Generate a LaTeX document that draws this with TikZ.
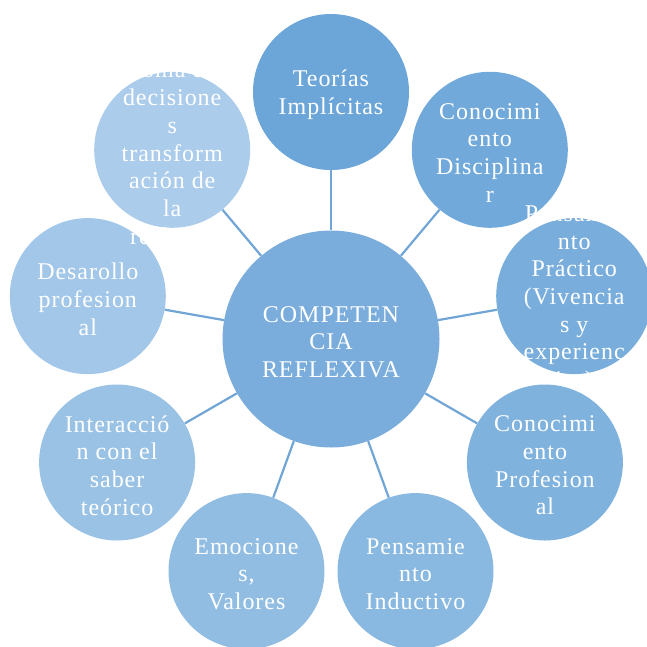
\documentclass[tikz,border=0pt]{standalone}
\usepackage{fontspec}
\setmainfont[LetterSpace=4]{Liberation Serif}
\usepackage{tikz}
\definecolor{lineBlue}{RGB}{112, 165, 214}
\definecolor{hubBlue}{RGB}{122, 173, 220}
\definecolor{shadeA}{RGB}{108, 166, 217}
\definecolor{shadeB}{RGB}{113, 169, 218}
\definecolor{shadeC}{RGB}{120, 173, 220}
\definecolor{shadeD}{RGB}{128, 178, 222}
\definecolor{shadeE}{RGB}{137, 184, 224}
\definecolor{shadeF}{RGB}{146, 189, 227}
\definecolor{shadeG}{RGB}{154, 194, 229}
\definecolor{shadeH}{RGB}{162, 199, 232}
\definecolor{shadeI}{RGB}{171, 204, 234}

\begin{document}
\begin{tikzpicture}[x=1pt, y=-1pt,
    words/.style={inner sep=0pt, align=center, text=white, yshift=-3pt,
      font=\fontsize{24}{27.7}\selectfont},
    bubble/.style={circle, minimum size=156pt, inner sep=0pt},
    hub/.style={bubble, minimum size=217pt, fill=hubBlue},
    spoke/.style={lineBlue, line width=2.2pt}]
        \useasboundingbox (0,0) rectangle (647,646);
        % centre
        \node[hub, label={[words]center:COMPETEN\\CIA\\REFLEXIVA}] (comp) at (331,339) {};
        % ring, clockwise from the top
        \node[bubble, fill=shadeA, label={[words]center:Teorías\\Implícitas}] (teor) at (331,92) {};
        \node[bubble, fill=shadeB, label={[words]center:Conocimi\\ento\\Disciplina\\r}] (disc) at (489.8,149.8) {};
        \node[bubble, fill=shadeC, label={[words]center:Pensamie\\nto\\Práctico\\(Vivencia\\s y\\experienc\\ias)}] (prac) at (574.2,296.1) {};
        \node[bubble, fill=shadeD, label={[words]center:Conocimi\\ento\\Profesion\\al}] (prof) at (544.9,462.5) {};
        \node[bubble, fill=shadeE, label={[words]center:Pensamie\\nto\\Inductivo}] (indu) at (415.5,571.1) {};
        \node[bubble, fill=shadeF, label={[words]center:Emocione\\s,\\Valores}] (emoc) at (246.5,571.1) {};
        \node[bubble, fill=shadeG, label={[words]center:Interacció\\n con el\\saber\\teórico}] (inte) at (117.1,462.5) {};
        \node[bubble, fill=shadeH, label={[words]center:Desarollo\\profesion\\al}] (desa) at (87.8,296.1) {};
        \node[bubble, fill=shadeI, label={[words]center:Toma de\\decisione\\s\\transform\\ación de\\la\\realidad}] (toma) at (172.2,149.8) {};
        % spokes
        \draw[spoke] (comp) -- (teor);
        \draw[spoke] (comp) -- (disc);
        \draw[spoke] (comp) -- (prac);
        \draw[spoke] (comp) -- (prof);
        \draw[spoke] (comp) -- (indu);
        \draw[spoke] (comp) -- (emoc);
        \draw[spoke] (comp) -- (inte);
        \draw[spoke] (comp) -- (desa);
        \draw[spoke] (comp) -- (toma);
      \end{tikzpicture}
\end{document}
